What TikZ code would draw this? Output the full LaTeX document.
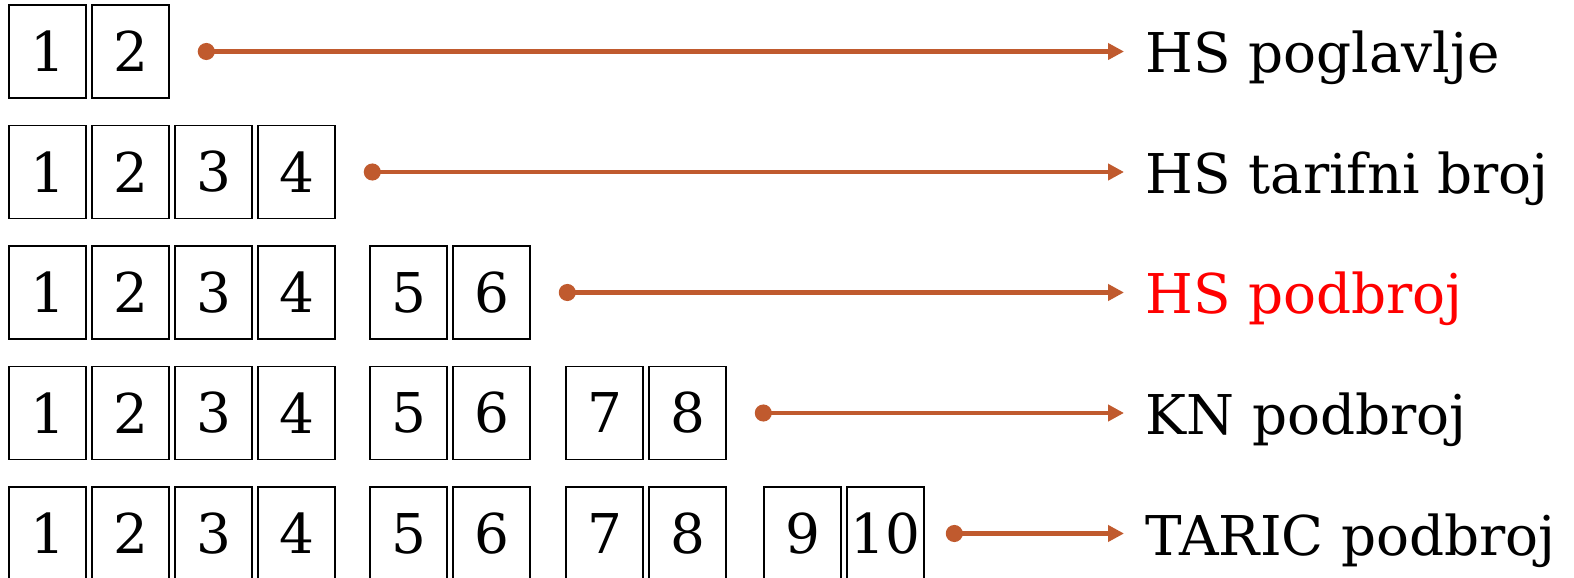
\documentclass[tikz,border=0pt]{standalone}
\usepackage{fontspec}
\setmainfont{DejaVu Serif}
\usetikzlibrary{arrows.meta}
\definecolor{linkorange}{RGB}{192,90,46}

\begin{document}
\begin{tikzpicture}[
  every node/.style={font=\fontsize{15.6}{18}\selectfont},
  digitbox/.style={rectangle, draw=black, line width=0.45pt, minimum width=0.77cm, minimum height=0.93cm, inner sep=0pt},
  label/.style={anchor=base west, inner sep=0pt},
  link/.style={{Circle[length=1.7mm]}-{Triangle[length=1.6mm, width=1.6mm]}, line width=1.4pt, linkorange, shorten <=0.28cm, shorten >=0.21cm},
]
\useasboundingbox (0,0) rectangle (15.74,-5.78);

% ---- row 1: HS poglavlje ----
\node[digitbox] (r1b1) at (0.475, -0.515) {1};
\node[digitbox] (r1b2) at (1.305, -0.515) {2};

% ---- row 2: HS tarifni broj ----
\node[digitbox] (r2b1) at (0.475, -1.72) {1};
\node[digitbox] (r2b2) at (1.305, -1.72) {2};
\node[digitbox] (r2b3) at (2.135, -1.72) {3};
\node[digitbox] (r2b4) at (2.965, -1.72) {4};

% ---- row 3: HS podbroj ----
\node[digitbox] (r3b1) at (0.475, -2.925) {1};
\node[digitbox] (r3b2) at (1.305, -2.925) {2};
\node[digitbox] (r3b3) at (2.135, -2.925) {3};
\node[digitbox] (r3b4) at (2.965, -2.925) {4};
\node[digitbox] (r3b5) at (4.085, -2.925) {5};
\node[digitbox] (r3b6) at (4.915, -2.925) {6};

% ---- row 4: KN podbroj ----
\node[digitbox] (r4b1) at (0.475, -4.13) {1};
\node[digitbox] (r4b2) at (1.305, -4.13) {2};
\node[digitbox] (r4b3) at (2.135, -4.13) {3};
\node[digitbox] (r4b4) at (2.965, -4.13) {4};
\node[digitbox] (r4b5) at (4.085, -4.13) {5};
\node[digitbox] (r4b6) at (4.915, -4.13) {6};
\node[digitbox] (r4b7) at (6.045, -4.13) {7};
\node[digitbox] (r4b8) at (6.875, -4.13) {8};

% ---- row 5: TARIC podbroj ----
\node[digitbox] (r5b1)  at (0.475, -5.335) {1};
\node[digitbox] (r5b2)  at (1.305, -5.335) {2};
\node[digitbox] (r5b3)  at (2.135, -5.335) {3};
\node[digitbox] (r5b4)  at (2.965, -5.335) {4};
\node[digitbox] (r5b5)  at (4.085, -5.335) {5};
\node[digitbox] (r5b6)  at (4.915, -5.335) {6};
\node[digitbox] (r5b7)  at (6.045, -5.335) {7};
\node[digitbox] (r5b8)  at (6.875, -5.335) {8};
\node[digitbox] (r5b9)  at (8.025, -5.335) {9};
\node[digitbox] (r5b10) at (8.855, -5.335) {10};

% ---- labels ----
\node[label] (l1) at (11.45, -0.73) {HS poglavlje};
\node[label] (l2) at (11.45, -1.935) {HS tarifni broj};
\node[label, text=red] (l3) at (11.45, -3.14) {HS podbroj};
\node[label] (l4) at (11.45, -4.345) {KN podbroj};
\node[label] (l5) at (11.45, -5.55) {TARIC podbroj};

% ---- arrows ----
\draw[link] (r1b2.east) -- (r1b2.east -| l1.west);
\draw[link] (r2b4.east) -- (r2b4.east -| l2.west);
\draw[link] (r3b6.east) -- (r3b6.east -| l3.west);
\draw[link] (r4b8.east) -- (r4b8.east -| l4.west);
\draw[link, shorten <=0.21cm] (r5b10.east) -- (r5b10.east -| l5.west);

\end{tikzpicture}
\end{document}
